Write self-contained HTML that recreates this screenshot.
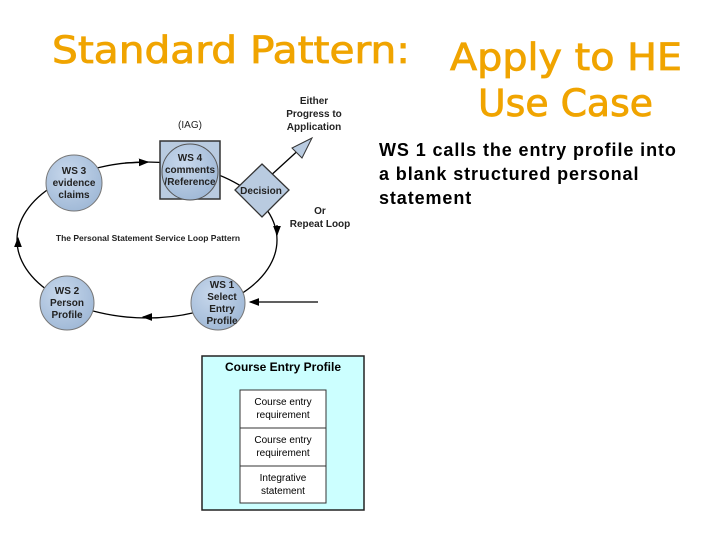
<!DOCTYPE html>
<html><head><style>
body{margin:0;width:720px;height:540px;background:#fff;position:relative;overflow:hidden;font-family:"Liberation Sans",sans-serif}
.t{position:absolute;left:379px;top:138px;font-size:18px;letter-spacing:0.9px;font-weight:bold;line-height:24px;color:#000;white-space:nowrap}
</style></head><body>
<div class="t">WS 1 calls the entry profile into<br>a blank structured personal<br>statement</div>
<svg width="720" height="540" style="position:absolute;left:0;top:0" font-family="Liberation Sans,sans-serif" font-weight="bold">
<defs><marker id="a" markerWidth="8" markerHeight="8" refX="7" refY="4" orient="auto"><path d="M0,1 L8,4 L0,7z" fill="#000"/></marker>
<radialGradient id="g" cx="40%" cy="35%" r="70%"><stop offset="0" stop-color="#c8d8ec"/><stop offset="1" stop-color="#9fb8d6"/></radialGradient></defs>
<g font-family="DejaVu Sans,Liberation Sans,sans-serif" font-weight="normal" fill="#f0a400" font-size="37" stroke="#f0a400" stroke-width="0.8">
<text x="52" y="63" textLength="358" lengthAdjust="spacingAndGlyphs">Standard Pattern:</text>
<text x="450" y="70" textLength="232" lengthAdjust="spacingAndGlyphs">Apply to HE</text>
<text x="478" y="116" textLength="175" lengthAdjust="spacingAndGlyphs">Use Case</text>
</g>
<ellipse cx="147" cy="240" rx="130" ry="78" fill="none" stroke="#000" stroke-width="1.3"/>
<line x1="125" y1="163" x2="148" y2="162" stroke="#000" stroke-width="1.3" marker-end="url(#a)"/>
<line x1="150" y1="317" x2="143" y2="317" stroke="#000" stroke-width="1.3" marker-end="url(#a)"/>
<line x1="18" y1="245" x2="18" y2="238" stroke="#000" stroke-width="1.3" marker-end="url(#a)"/>
<line x1="277" y1="225" x2="277" y2="235" stroke="#000" stroke-width="1.3" marker-end="url(#a)"/>
<line x1="318" y1="302" x2="250" y2="302" stroke="#000" stroke-width="1.3" marker-end="url(#a)"/>
<rect x="160" y="141" width="60" height="58" fill="#b9cbe0" stroke="#333" stroke-width="1.5"/>
<circle cx="190" cy="172" r="28" fill="url(#g)" stroke="#555"/>
<circle cx="74" cy="183" r="28" fill="url(#g)" stroke="#777"/>
<circle cx="67" cy="303" r="27" fill="url(#g)" stroke="#777"/>
<circle cx="218" cy="303" r="27" fill="url(#g)" stroke="#777"/>
<line x1="268" y1="178" x2="303" y2="146" stroke="#000" stroke-width="1.3"/>
<polygon points="312,138 292,148 302,158" fill="#b9cbe0" stroke="#333"/>
<polygon points="262,164 289,190 262,217 235,190" fill="#b9cbe0" stroke="#333" stroke-width="1.3"/>
<g font-size="10" text-anchor="middle" fill="#222">
<text x="190" y="161">WS 4</text><text x="190" y="173">comments</text><text x="190" y="185">/Reference</text>
<text x="74" y="174">WS 3</text><text x="74" y="186">evidence</text><text x="74" y="198">claims</text>
<text x="67" y="294">WS 2</text><text x="67" y="306">Person</text><text x="67" y="318">Profile</text>
<text x="222" y="288">WS 1</text><text x="222" y="300">Select</text><text x="222" y="312">Entry</text><text x="222" y="324">Profile</text>
<text x="261" y="194">Decision</text>
<text x="190" y="128" font-weight="normal">(IAG)</text>
<text x="314" y="104">Either</text><text x="314" y="117">Progress to</text><text x="314" y="130">Application</text>
<text x="320" y="214">Or</text><text x="320" y="227">Repeat Loop</text>
<text x="148" y="241" font-size="8.5">The Personal Statement Service Loop Pattern</text>
</g>
<rect x="202" y="356" width="162" height="154" fill="#ccffff" stroke="#222" stroke-width="1.5"/>
<text x="283" y="371" font-size="12" text-anchor="middle">Course Entry Profile</text>
<rect x="240" y="390" width="86" height="113" fill="#fff" stroke="#333"/>
<line x1="240" y1="428" x2="326" y2="428" stroke="#333"/>
<line x1="240" y1="466" x2="326" y2="466" stroke="#333"/>
<g font-size="10" font-weight="normal" text-anchor="middle" fill="#000">
<text x="283" y="405">Course entry</text><text x="283" y="418">requirement</text>
<text x="283" y="443">Course entry</text><text x="283" y="456">requirement</text>
<text x="283" y="481">Integrative</text><text x="283" y="494">statement</text>
</g>
</svg>
</body></html>
